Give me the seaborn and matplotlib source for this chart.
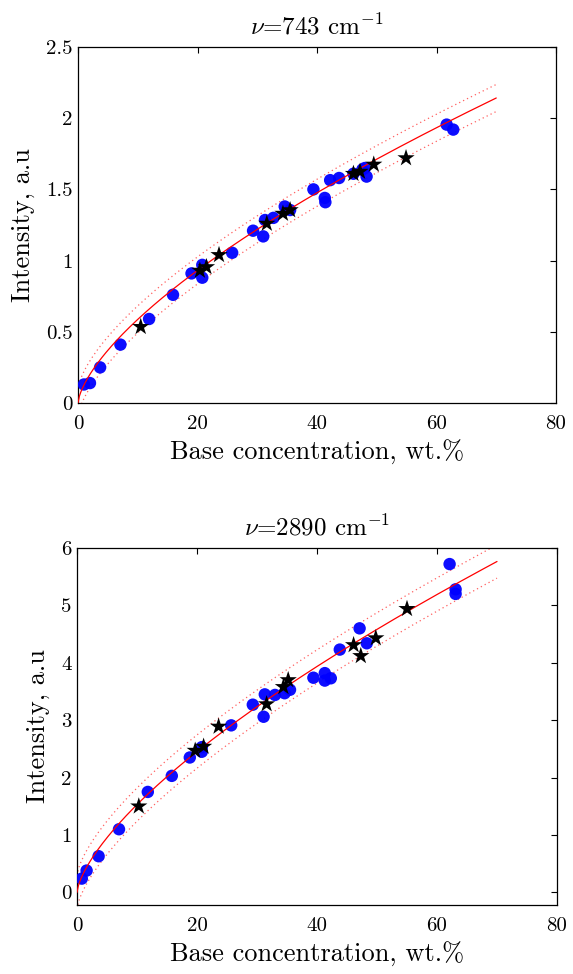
import numpy as np
import pandas as pd
import matplotlib
matplotlib.use("Agg")
import matplotlib.pyplot as plt
import seaborn as sns

# ---------------- data ----------------
# nu = 743 cm-1
top_cal_x = [1.0, 2.0, 3.7, 7.1, 11.9, 15.9, 19.0, 20.8, 20.8, 25.8, 29.3, 31.0, 31.3,
             32.7, 34.6, 35.5, 39.4, 41.3, 41.4, 42.2, 43.7, 46.1, 47.6, 48.0, 48.3, 61.7, 62.8]
top_cal_y = [0.13, 0.14, 0.25, 0.41, 0.59, 0.76, 0.91, 0.97, 0.88, 1.055, 1.21, 1.17, 1.285,
             1.30, 1.38, 1.355, 1.50, 1.44, 1.41, 1.565, 1.58, 1.61, 1.64, 1.65, 1.59, 1.955, 1.92]
top_val_x = [10.5, 20.4, 21.5, 23.6, 31.6, 34.3, 35.5, 46.1, 47.2, 49.5, 54.9]
top_val_y = [0.535, 0.93, 0.955, 1.04, 1.26, 1.33, 1.355, 1.61, 1.625, 1.675, 1.72]

# nu = 2890 cm-1
bot_cal_x = [0.8, 1.6, 3.6, 7.0, 11.8, 15.8, 18.8, 20.8, 20.8, 25.7, 29.3, 31.1, 31.3,
             33.0, 34.6, 35.5, 39.4, 41.3, 41.3, 42.3, 43.8, 47.1, 48.3, 62.1, 63.1, 63.1]
bot_cal_y = [0.24, 0.38, 0.63, 1.10, 1.75, 2.03, 2.35, 2.45, 2.53, 2.91, 3.27, 3.06, 3.45,
             3.44, 3.47, 3.53, 3.74, 3.82, 3.69, 3.73, 4.23, 4.60, 4.34, 5.72, 5.28, 5.20]
bot_val_x = [10.3, 19.7, 21.1, 23.6, 31.6, 34.4, 35.2, 46.1, 47.3, 49.8, 55.0]
bot_val_y = [1.50, 2.47, 2.54, 2.89, 3.28, 3.58, 3.70, 4.31, 4.12, 4.43, 4.94]

# power-law fit y = a * x^b and prediction-band half widths
top_fit = (0.127, 0.665)
bot_fit = (0.318, 0.682)
top_band = 0.095
bot_band = 0.29
fit_range = (0.0, 70.0)

titles = [r"$\nu$=743 cm$^{\mathdefault{-1}}$", r"$\nu$=2890 cm$^{\mathdefault{-1}}$"]
xlabel = "Base concentration, wt.%"
ylabel = "Intensity, a.u"
x_ticks = [0, 20, 40, 60, 80]
x_ticklabels = ["0", "20", "40", "60", "80"]
top_yticks = [0, 0.5, 1, 1.5, 2, 2.5]
top_yticklabels = ["0", "0.5", "1", "1.5", "2", "2.5"]
bot_yticks = [0, 1, 2, 3, 4, 5, 6]
bot_yticklabels = ["0", "1", "2", "3", "4", "5", "6"]

# ---------------- drawing ----------------
sns.set_theme(style="white")
plt.rcParams["font.family"] = ["cmr10", "DejaVu Serif"]
plt.rcParams["mathtext.fontset"] = "cm"
plt.rcParams["axes.formatter.use_mathtext"] = True
for k in ["text.color", "axes.labelcolor", "xtick.color", "ytick.color", "axes.edgecolor"]:
    plt.rcParams[k] = "black"

fig = plt.figure(figsize=(5.73, 9.74), dpi=100)
ax1 = fig.add_axes([78/573, 1-403/974, (556-78)/573, (403-47)/974])
ax2 = fig.add_axes([77/573, 1-905/974, (557-77)/573, (905-548)/974])

panels = [
    (ax1, top_cal_x, top_cal_y, top_val_x, top_val_y, top_fit, top_band, (0, 2.5), top_yticks, top_yticklabels),
    (ax2, bot_cal_x, bot_cal_y, bot_val_x, bot_val_y, bot_fit, bot_band, (-0.22, 6.0), bot_yticks, bot_yticklabels),
]

for i, (ax, cx, cy, vx, vy, fit, band, ylim, yt, ytl) in enumerate(panels):
    xs = np.linspace(fit_range[0], fit_range[1], 300)
    ys = fit[0] * xs ** fit[1]
    curve = pd.DataFrame({"x": xs, "y": ys, "lo": ys - band, "hi": ys + band})
    sns.lineplot(data=curve, x="x", y="hi", ax=ax, color="#ff6060", lw=0.9,
                 linestyle=(0, (1, 2.5)), zorder=2)
    sns.lineplot(data=curve, x="x", y="lo", ax=ax, color="#ff6060", lw=0.9,
                 linestyle=(0, (1, 2.5)), zorder=2)
    sns.scatterplot(x=cx, y=cy, ax=ax, color="#0000ff", s=80, edgecolor="none",
                    alpha=0.95, zorder=3)
    sns.lineplot(data=curve, x="x", y="y", ax=ax, color="#ff0000", lw=0.9, zorder=4)
    sns.scatterplot(x=vx, y=vy, ax=ax, color="black", marker="*", s=170,
                    edgecolor="none", zorder=5)

    ax.set_xlim(0, 80)
    ax.set_ylim(*ylim)
    ax.set_xticks(x_ticks)
    ax.set_xticklabels(x_ticklabels)
    ax.set_yticks(yt)
    ax.set_yticklabels(ytl)
    ax.tick_params(direction="in", top=True, right=True, length=4, width=0.8,
                   labelsize=15, colors="black")
    ax.tick_params(axis="x", pad=9)
    ax.tick_params(axis="y", pad=4)
    for sp in ax.spines.values():
        sp.set_visible(True)
        sp.set_color("black")
        sp.set_linewidth(0.9)
    ax.set_xlabel(xlabel, fontsize=19, labelpad=5)
    ax.set_ylabel(ylabel, fontsize=19, labelpad=8)
    ax.set_title(titles[i], fontsize=18, pad=9)
    ax.grid(False)

fig.savefig("out.png", dpi=100, facecolor="white")
